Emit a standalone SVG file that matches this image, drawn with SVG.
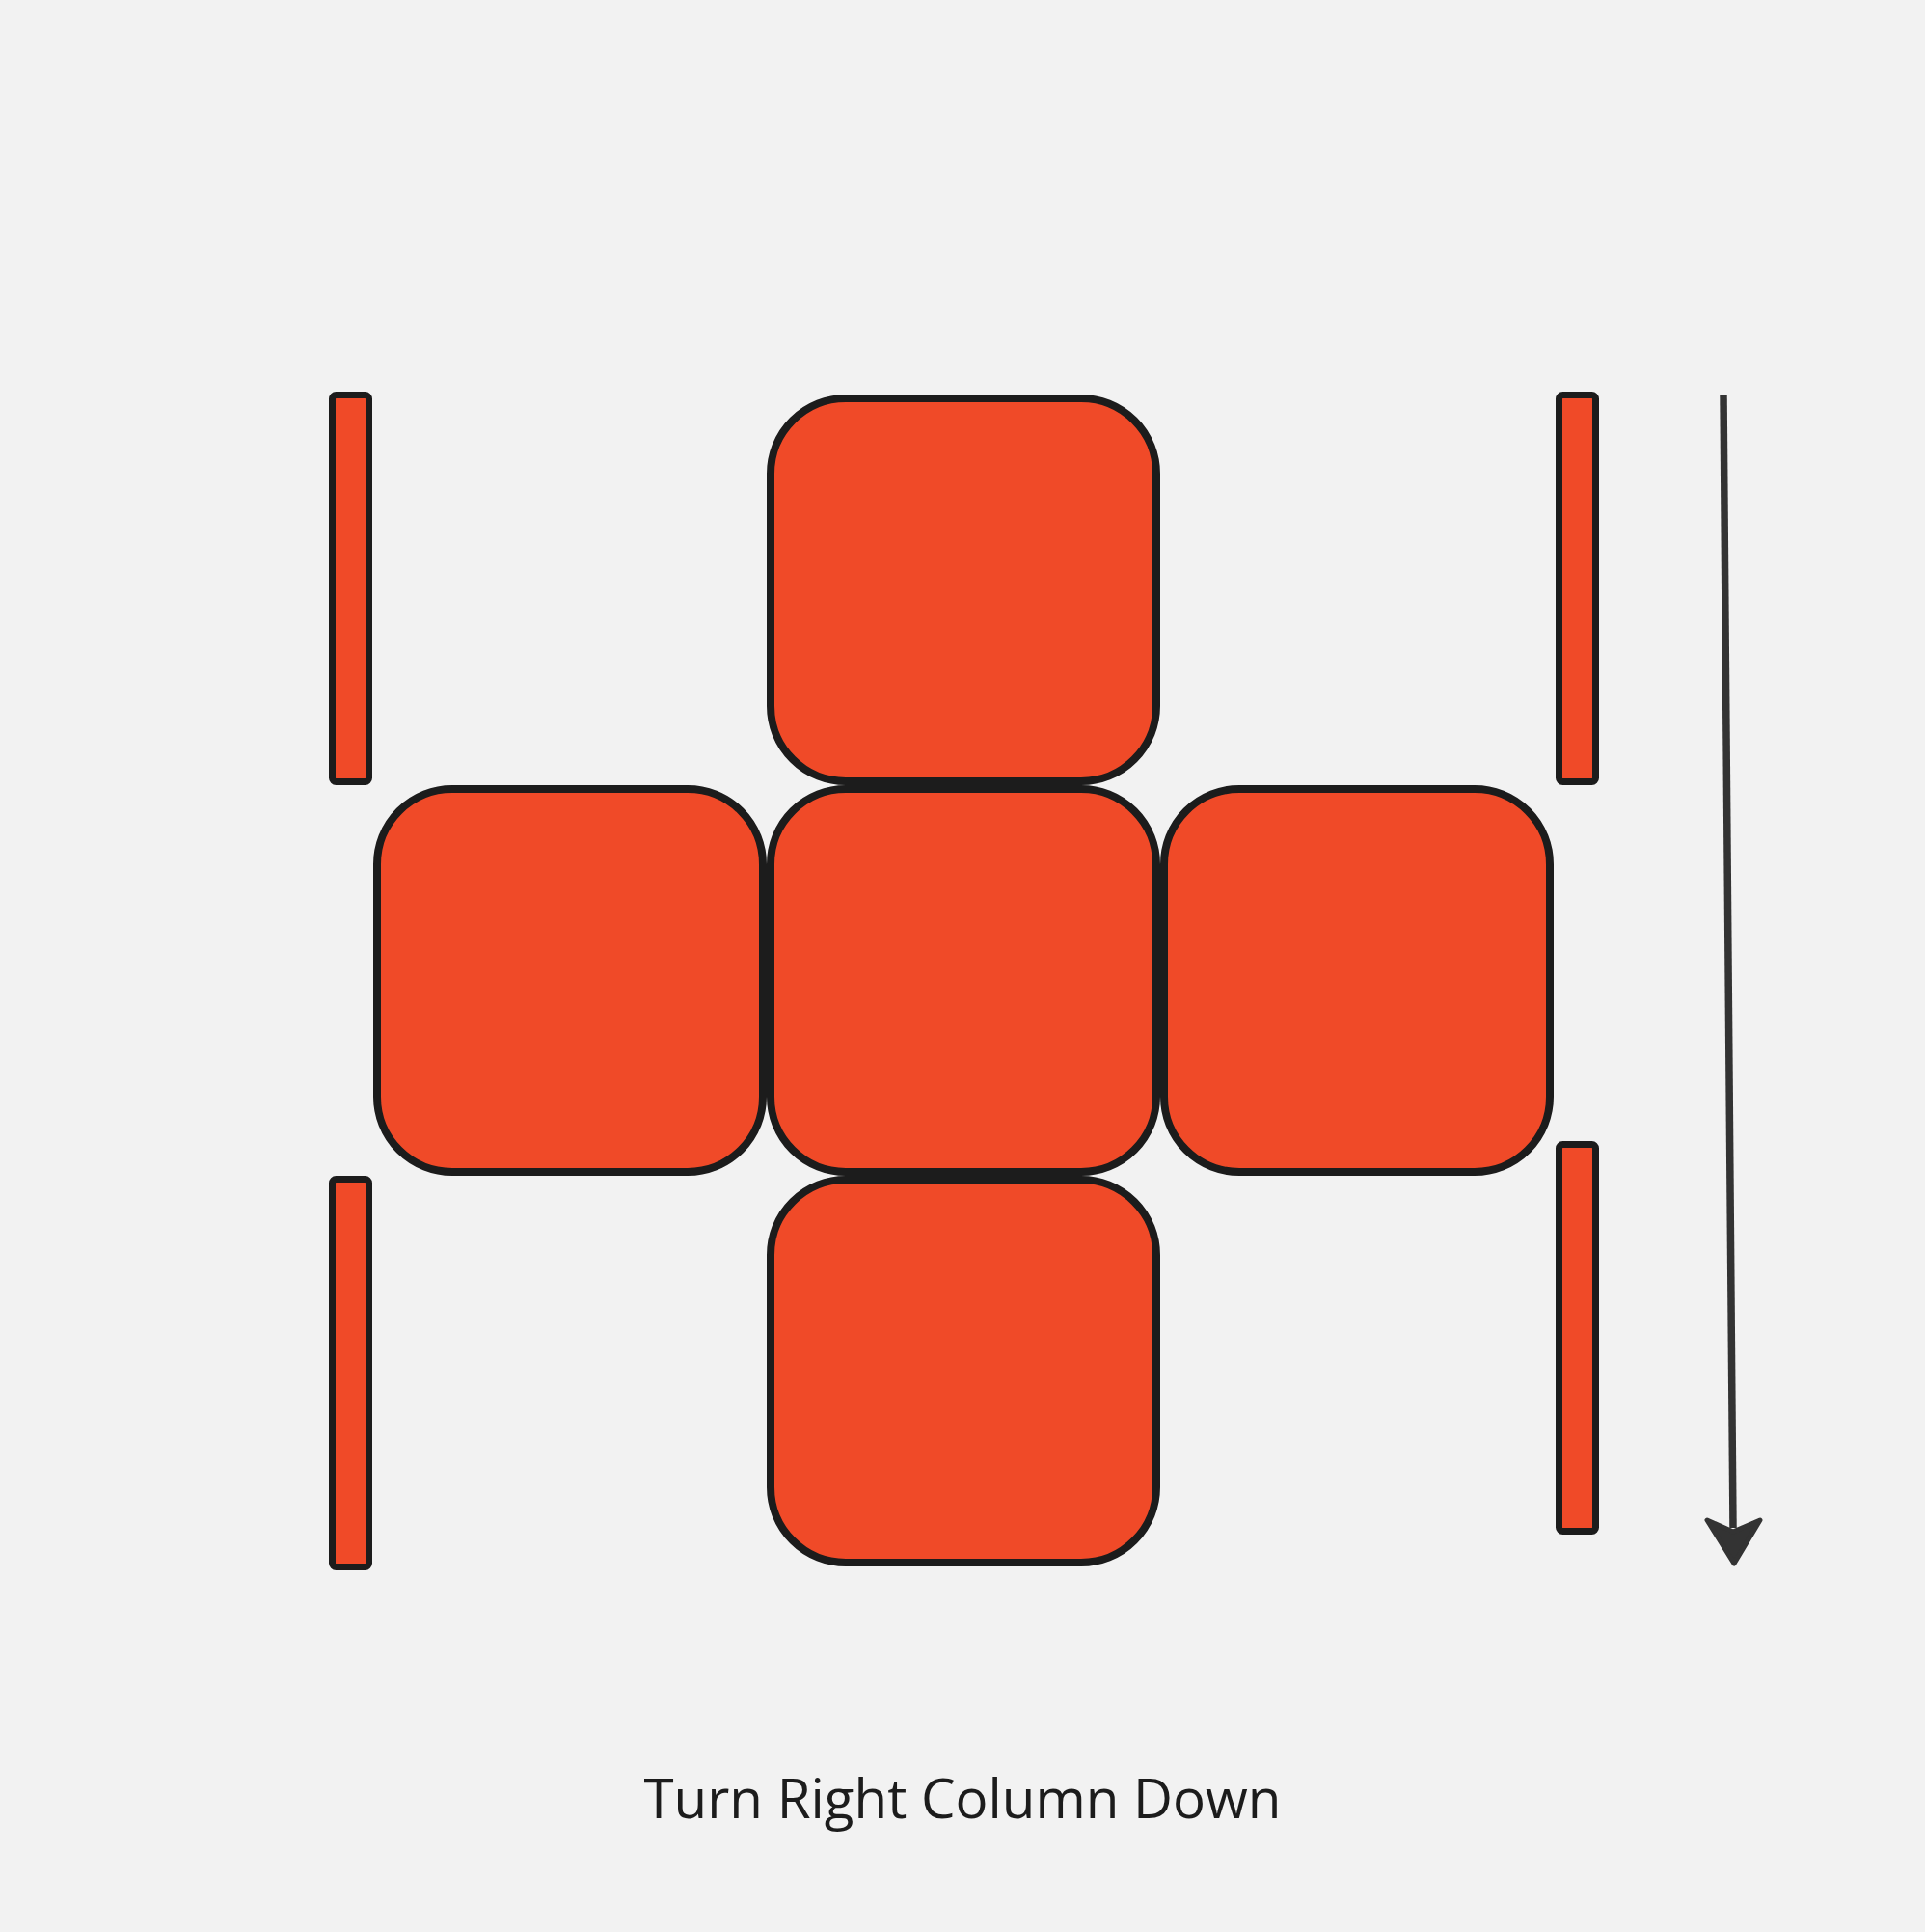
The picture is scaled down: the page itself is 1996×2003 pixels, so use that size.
<svg xmlns="http://www.w3.org/2000/svg" width="1996" height="2003" viewBox="0 0 1996 2003">
<style>
.sq{fill:#F04A28;stroke:#1c1c1c;stroke-width:8}
.bar{fill:#F04A28;stroke:#1c1c1c;stroke-width:7}
.lbl{font-family:"Open Sans","Noto Sans",sans-serif;font-size:56.5px;fill:#1c1c1c}
</style>
<rect x="0" y="0" width="1996" height="2003" fill="#f2f2f2"/>
<g id="bar-top-left"><rect class="bar" x="344.5" y="409.5" width="38" height="401" rx="4"/></g>
<g id="bar-bottom-left"><rect class="bar" x="344.5" y="1222.5" width="38" height="402" rx="4"/></g>
<g id="bar-top-right"><rect class="bar" x="1616.5" y="409.5" width="38" height="401" rx="4"/></g>
<g id="bar-bottom-right"><rect class="bar" x="1616.5" y="1186.5" width="38" height="401" rx="4"/></g>
<g id="square-top"><rect class="sq" x="799" y="413" width="400" height="397" rx="78"/></g>
<g id="square-left"><rect class="sq" x="391" y="818" width="400" height="397" rx="78"/></g>
<g id="square-center"><rect class="sq" x="799" y="818" width="400" height="397" rx="78"/></g>
<g id="square-right"><rect class="sq" x="1207" y="818" width="400" height="397" rx="78"/></g>
<g id="square-bottom"><rect class="sq" x="799" y="1223" width="400" height="397" rx="78"/></g>
<g id="connectors">
<line x1="1787" y1="409" x2="1797" y2="1584" stroke="#333333" stroke-width="7.5"/>
<polygon points="1798,1621 1770,1576 1797,1588 1825,1576" fill="#333333" stroke="#333333" stroke-width="5" stroke-linejoin="round"/>
</g>
<g id="label"><text class="lbl" x="998" y="1885" text-anchor="middle">Turn Right Column Down</text></g>
</svg>
